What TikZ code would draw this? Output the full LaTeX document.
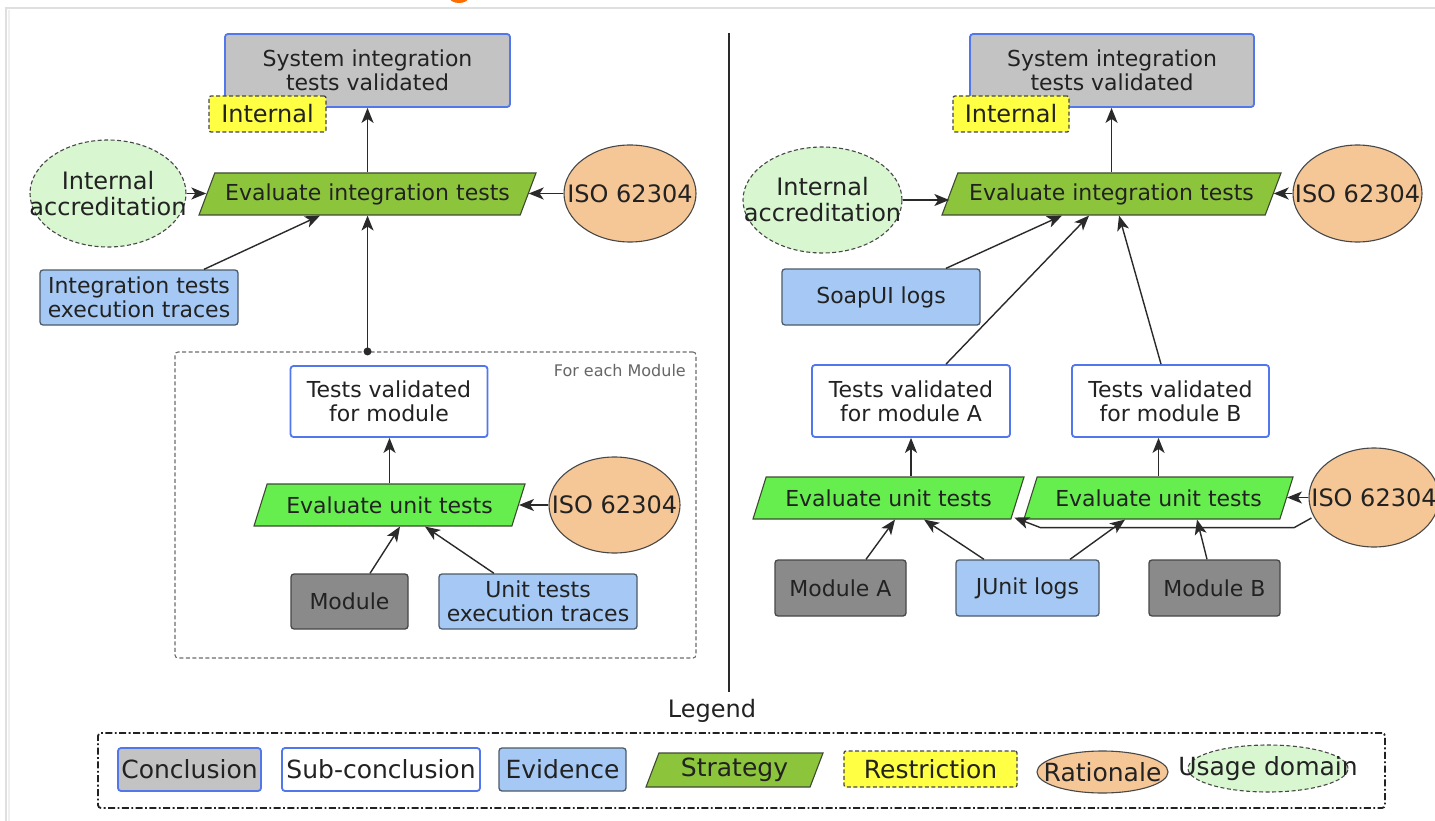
\documentclass[tikz,border=0pt]{standalone}
\usepackage{fontspec}
\setmainfont{DejaVu Sans}
\usetikzlibrary{shapes.geometric,arrows.meta,calc}

\definecolor{txt}{HTML}{222222}
\definecolor{linecol}{HTML}{2A2A2A}
\definecolor{concfill}{HTML}{C3C3C3}
\definecolor{concblue}{HTML}{5276EC}
\definecolor{evfill}{HTML}{A5C9F4}
\definecolor{evdraw}{HTML}{4D5B6A}
\definecolor{stratfill}{HTML}{8CC43C}
\definecolor{unitfill}{HTML}{66EE4E}
\definecolor{stratdraw}{HTML}{3F4A33}
\definecolor{restfill}{HTML}{FFFF44}
\definecolor{ratfill}{HTML}{F5C797}
\definecolor{usefill}{HTML}{D8F7D0}
\definecolor{modfill}{HTML}{8A8A8A}
\definecolor{darkdraw}{HTML}{474747}

\tikzset{
  every node/.style={font=\fontsize{22}{24}\selectfont, text=txt, inner sep=2pt},
  bigtext/.style={font=\fontsize{24}{26}\selectfont},
  legtext/.style={font=\fontsize{25}{27}\selectfont},
  conc/.style={rectangle, rounded corners=3pt, draw=concblue, line width=1.8pt,
    fill=concfill, align=center},
  subconc/.style={rectangle, rounded corners=3pt, draw=concblue, line width=1.8pt,
    fill=white, align=center},
  evid/.style={rectangle, rounded corners=3pt, draw=evdraw, line width=1.3pt,
    fill=evfill, align=center},
  modbox/.style={rectangle, rounded corners=3pt, draw=darkdraw, line width=1.3pt,
    fill=modfill, align=center},
  strat/.style={trapezium, trapezium left angle=58, trapezium right angle=122,
    trapezium stretches body, draw=stratdraw, line width=1.1pt, fill=stratfill,
    minimum height=42pt},
  unitstrat/.style={strat, fill=unitfill},
  restr/.style={rectangle, rounded corners=2pt, draw=darkdraw, line width=1.3pt,
    dash pattern=on 4pt off 2.5pt, fill=restfill, bigtext},
  % text may overrun these ellipses, so it must not widen them
  ratio/.style={ellipse, draw=darkdraw, line width=1.1pt, fill=ratfill,
    inner xsep=-40pt, inner ysep=-20pt, bigtext},
  usedom/.style={ellipse, draw=darkdraw, line width=1.1pt, dash pattern=on 4pt off 2.5pt,
    fill=usefill, inner xsep=-40pt, inner ysep=-20pt, align=center, bigtext},
  arr/.style={draw=linecol, line width=1.4pt,
    -{Stealth[length=15pt,width=12pt,inset=4pt]}},
  groupbox/.style={rectangle, rounded corners=3pt, draw=gray!85!black, line width=1.1pt,
    dash pattern=on 4pt off 2.5pt},
  legendbox/.style={rectangle, rounded corners=3pt, draw=txt, line width=1.8pt,
    dash pattern=on 7pt off 2.5pt on 1.8pt off 2.5pt}
}

\begin{document}
\begin{tikzpicture}[x=1pt,y=-1pt]
\useasboundingbox (0,0) rectangle (1435,821);
\fill[white] (0,0) rectangle (1435,821);

% page frame and the cut-off heading mark above it
\begin{scope}
  \clip (0,0) rectangle (1435,821);
  \fill[orange!85!red] (459,-3) ellipse (10pt and 6pt);
  \draw[gray!25, line width=1.5pt] (6,821) -- (6,8) -- (1435,8);
  \draw[gray!12, line width=2pt] (8.5,821) -- (8.5,10);
\end{scope}

% divider between the two cases
\draw[linecol, line width=2.4pt] (729,33) -- (729,692);

% ---------------- generic pattern (left) ----------------
\node[conc, minimum width=285pt, minimum height=73pt] (cl) at (367.5,70.5)
  {System integration\\tests validated};
\node[restr, minimum width=117pt, minimum height=36pt] (rl) at (267.5,114) {Internal};
\node[usedom, minimum width=156pt, minimum height=107pt] (ial) at (108,193.5)
  {Internal\\accreditation};
\node[strat, minimum width=337pt] (sl) at (367.5,194) {Evaluate integration tests};
\node[ratio, minimum width=132pt, minimum height=97pt] (isol) at (630,193.5) {ISO 62304};
\node[evid, minimum width=198pt, minimum height=55pt] (el) at (139,297.5)
  {Integration tests\\execution traces};

\node[groupbox, minimum width=521pt, minimum height=306pt] (fe) at (435.5,505) {};
\node[anchor=east, font=\fontsize{16}{18}\selectfont, text=gray!80!black] (fel)
  at (688,370.5) {For each Module};
\coordinate (dot) at (fe.north -| sl.south);
\fill[linecol] (dot) circle (4pt);

\node[subconc, minimum width=197pt, minimum height=71pt] (tvl) at (389,401.5)
  {Tests validated\\for module};
\node[unitstrat, minimum width=271pt] (ul) at (389.5,505) {Evaluate unit tests};
\node[ratio, minimum width=131pt, minimum height=96pt] (isou) at (614.5,505) {ISO 62304};
\node[modbox, minimum width=117pt, minimum height=55pt] (ml) at (349.5,601.5) {Module};
\node[evid, minimum width=198pt, minimum height=55pt] (utl) at (538,601.5)
  {Unit tests\\execution traces};

\draw[arr] (sl.north) -- (sl.north |- cl.south);
\draw[arr] (ial.east) -- (ial.east -| sl.west);
\draw[arr] (isol.west) -- (isol.west -| sl.east);
\draw[arr] ($(el.north)+(65,0)$) -- ($(sl.south)+(-47.5,0)$);
\draw[arr] (dot) -- (sl.south);
\draw[arr] (ul.north) -- (ul.north |- tvl.south);
\draw[arr] (isou.west) -- (isou.west -| ul.east);
\draw[arr] ($(ml.north)+(20.5,0)$) -- ($(ul.south)+(10.5,0)$);
\draw[arr] ($(utl.north)+(-44,0)$) -- ($(ul.south)+(35.5,0)$);

% ---------------- instantiated pattern (right) ----------------
\node[conc, minimum width=284pt, minimum height=73pt] (cr) at (1112,70.5)
  {System integration\\tests validated};
\node[restr, minimum width=116pt, minimum height=36pt] (rr) at (1011,114) {Internal};
\node[usedom, minimum width=159pt, minimum height=106pt] (iar) at (822.5,200)
  {Internal\\accreditation};
\node[strat, minimum width=339pt] (sr) at (1111.5,194) {Evaluate integration tests};
\node[ratio, minimum width=129pt, minimum height=97pt] (isor) at (1357.5,193.5) {ISO 62304};
\node[evid, minimum width=198pt, minimum height=56pt] (soap) at (881,297) {SoapUI logs};

\node[subconc, minimum width=198pt, minimum height=72pt] (tva) at (911,401)
  {Tests validated\\for module A};
\node[subconc, minimum width=197pt, minimum height=72pt] (tvb) at (1170.5,401)
  {Tests validated\\for module B};
\node[unitstrat, minimum width=271pt] (ua) at (888.5,498) {Evaluate unit tests};
\node[unitstrat, minimum width=269pt] (ub) at (1158.5,498) {Evaluate unit tests};
\node[ratio, minimum width=130pt, minimum height=99pt] (isob) at (1374,497.5) {ISO 62304};
\node[modbox, minimum width=131pt, minimum height=56pt] (ma) at (840.5,588) {Module A};
\node[evid, minimum width=143pt, minimum height=56pt] (ju) at (1027.5,588) {JUnit logs};
\node[modbox, minimum width=131pt, minimum height=56pt] (mb) at (1214.5,588) {Module B};

\draw[arr] (sr.north) -- (sr.north |- cr.south);
\draw[arr] (iar.east) -- (iar.east -| sr.west);
\draw[arr] (isor.west) -- (isor.west -| sr.east);
\draw[arr] ($(soap.north)+(65,0)$) -- ($(sr.south)+(-49.5,0)$);
\draw[arr] ($(tva.north)+(35,0)$) -- ($(sr.south)+(-22.5,0)$);
\draw[arr] ($(tvb.north)+(-9.5,0)$) -- ($(sr.south)+(7.5,0)$);
\draw[arr] (tva.south |- ua.north) -- (tva.south);
\draw[arr] (ub.north) -- (ub.north |- tvb.south);
\draw[arr] (isob.west) -- (isob.west -| ub.east);
\draw[arr] ($(isob.west)+(3,20.5)$) -- ($(ub.bottom right corner)+(14,8)$)
  -- ($(ub.bottom left corner)+(17,8)$) -- ($(ua.bottom right corner)+(3,-2)$);
\draw[arr] ($(ma.north)+(25.5,0)$) -- ($(ua.south)+(6.5,0)$);
\draw[arr] ($(ju.north)+(-43.5,0)$) -- ($(ua.south)+(35.5,0)$);
\draw[arr] ($(ju.north)+(42.5,0)$) -- ($(ub.south)+(-33.5,0)$);
\draw[arr] ($(mb.north)+(-7.5,0)$) -- ($(ub.south)+(38.5,0)$);

% ---------------- legend ----------------
\node[bigtext] (legt) at (712,711) {Legend};
\node[legendbox, minimum width=1287pt, minimum height=75pt] (leg) at (741.5,770.5) {};
\node[conc, legtext, minimum width=143pt, minimum height=43pt, inner sep=1pt] (lc)
  at (189.5,769.5) {Conclusion};
\node[subconc, legtext, minimum width=198pt, minimum height=43pt, inner sep=1pt] (ls)
  at (381,769.5) {Sub-conclusion};
\node[evid, legtext, minimum width=127pt, minimum height=43pt, inner sep=1pt] (le)
  at (562.5,769.5) {Evidence};
\node[strat, legtext, trapezium left angle=65, trapezium right angle=115,
  minimum width=177pt, minimum height=34pt] (lst) at (734.5,770) {Strategy};
\node[restr, legtext, minimum width=173pt, minimum height=36pt] (lr) at (930.5,769) {Restriction};
\node[ratio, legtext, minimum width=131pt, minimum height=42pt] (lra) at (1102.5,772) {Rationale};
\node[usedom, legtext, minimum width=160pt, minimum height=47pt] (lu) at (1268,768.5) {Usage domain};

\end{tikzpicture}
\end{document}
